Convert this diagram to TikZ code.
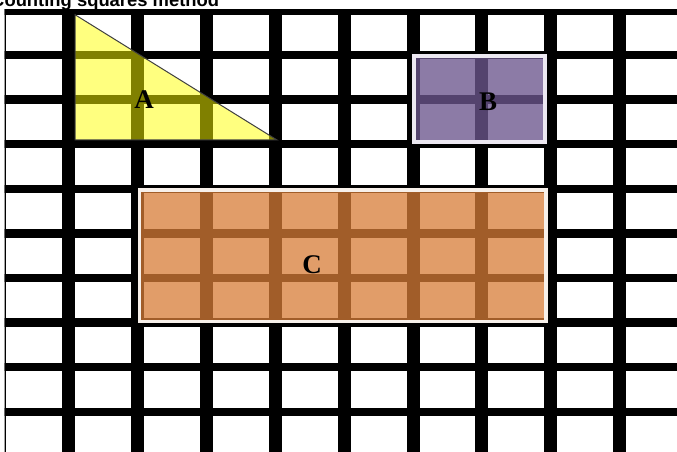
\documentclass[tikz,border=0pt]{standalone}
\usepackage{fontspec}
\setmainfont{Liberation Serif}
\newfontfamily\titlefont{Liberation Sans}
\usepackage{tikz}
\definecolor{triyellow}{RGB}{255,255,0}
\definecolor{boxpurple}{RGB}{108,86,141}
\definecolor{boxorange}{RGB}{215,125,55}
\definecolor{rimpurple}{RGB}{236,232,241}
\definecolor{rimorange}{RGB}{247,240,234}

\begin{document}
\begin{tikzpicture}[x=0.03cm,y=-0.03cm,
  vline/.style={line width=0.39cm,black},
  hline/.style={line width=0.255cm,black},
  letter/.style={font=\bfseries\fontsize{23}{23}\selectfont,inner sep=0pt}]
  \useasboundingbox (0,0) rectangle (677,452);
  \fill[white] (0,0) rectangle (677,452);
  \begin{scope}
    \clip (4.5,10) rectangle (677,452);
    \foreach \i in {0,...,9}
      \draw[vline] ({-0.4+68.9*\i},0) -- ({-0.4+68.9*\i},460);
    \foreach \j in {0,...,9}
      \draw[hline] (0,{10.4+44.6*\j}) -- (680,{10.4+44.6*\j});
  \end{scope}
  \draw[black!75,line width=0.03cm,fill=triyellow,fill opacity=0.5]
    (75,14.7) -- (75,140) -- (277,140) -- cycle;
  \draw[rimpurple,line width=0.12cm,fill=boxpurple,fill opacity=0.78]
    (413.8,56) rectangle (544.8,142);
  \draw[rimorange,line width=0.11cm,fill=boxorange,fill opacity=0.75]
    (139.5,190) rectangle (546.2,321.5);
  \node[letter] (labA) at (144,100) {A};
  \node[letter] (labB) at (488,102) {B};
  \node[letter] (labC) at (312,265) {C};
  \node[anchor=base west,inner sep=0pt,font=\titlefont\bfseries\fontsize{15.7}{16}\selectfont]
    (title) at (-9,6.5) {Counting squares method};
\end{tikzpicture}
\end{document}
